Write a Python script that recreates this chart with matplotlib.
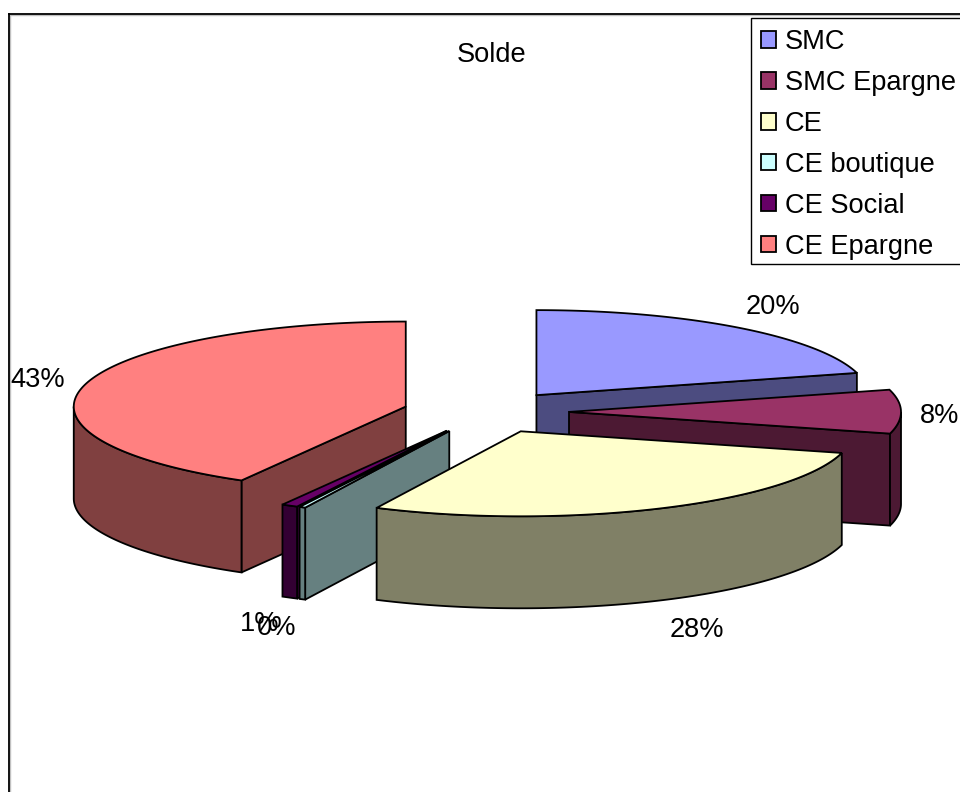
import numpy as np
import matplotlib
matplotlib.use('Agg')
import matplotlib.pyplot as plt
from matplotlib.patches import Polygon, Patch, Rectangle

labels = ['SMC', 'SMC Epargne', 'CE', 'CE boutique', 'CE Social', 'CE Epargne']
shares = [20.1, 8.1, 27.8, 0.3, 0.8, 42.9]
top_colors = ['#9999FF', '#993366', '#FFFFCC', '#CCFFFF', '#660066', '#FF8080']
side_colors = ['#4C4C80', '#4C1933', '#808066', '#668080', '#330033', '#804040']
pct_text = ['20%', '8%', '28%', '0%', '1%', '43%']
# where the labels sit, in pixels
pct_xy = [(773, 307), (940, 416), (697, 630), (277, 628), (260, 624), (38, 380)]

# back to front, painter style
draw_order = [0, 1, 5, 4, 3, 2]

cx, cy = 486, 412
rx, ry = 332, 85
depth = 92
explode = 0.25
warp = 4.2  # excel's 3d view pushes the angles round a little

plt.rcParams['font.family'] = ['Liberation Sans', 'DejaVu Sans']
font_size = 19.6

fig = plt.figure(figsize=(9.6, 7.92), dpi=100)
ax = fig.add_axes([0, 0, 1, 1])
ax.set_xlim(0, 960)
ax.set_ylim(792, 0)
ax.axis('off')


def arc(x0, y0, t1, t2):
    t = np.linspace(t1, t2, max(int(abs(t2 - t1) * 2), 2))
    return np.column_stack([x0 + rx * np.sin(np.radians(t)), y0 - ry * np.cos(np.radians(t))])


def poly(pts, color, z):
    ax.add_patch(Polygon(pts, closed=True, facecolor=color, edgecolor='black', linewidth=1.3, zorder=z))


edges = np.cumsum([0] + shares) / sum(shares) * 360
edges = edges + warp * np.sin(np.radians(edges / 2))
z = 2
for i in draw_order:
    t1, t2 = edges[i], edges[i + 1]
    mid = np.radians((t1 + t2) / 2)
    x0 = cx + explode * rx * np.sin(mid)
    y0 = cy - explode * ry * np.cos(mid)
    down = np.array([0, depth])
    apex = np.array([x0, y0])
    # cut faces that look at the viewer
    if t2 < 180:
        p = arc(x0, y0, t2, t2)[0]
        poly([apex, p, p + down, apex + down], side_colors[i], z)
    if t1 > 180:
        p = arc(x0, y0, t1, t1)[0]
        poly([apex, p, p + down, apex + down], side_colors[i], z)
    # outer wall, front half only
    lo, hi = max(t1, 90), min(t2, 270)
    if hi > lo:
        a = arc(x0, y0, lo, hi)
        poly(np.vstack([a, a[::-1] + down]), side_colors[i], z)
    poly(np.vstack([apex, arc(x0, y0, t1, t2)]), top_colors[i], z)
    z += 1

for txt, (x, y) in zip(pct_text, pct_xy):
    ax.text(x, y, txt, ha='center', va='center', fontsize=font_size, color='black', zorder=20)

ax.text(492, 55, 'Solde', ha='center', va='center', fontsize=font_size, color='black')

# chart frame, only top and left show
ax.plot([9, 960], [15, 15], color='#C0C0C0', lw=1, zorder=1)
ax.plot([10, 10], [15, 792], color='#C0C0C0', lw=1, zorder=1)
ax.plot([8.5, 960], [14, 14], color='black', lw=1.3, zorder=1)
ax.plot([8.5, 8.5], [14, 792], color='black', lw=1.3, zorder=1)

# legend box runs off the right edge
ax.add_patch(Rectangle((750.5, 17.5), 215, 246, facecolor='white', edgecolor='black', linewidth=1, zorder=25))
handles = [Patch(facecolor=c, edgecolor='black', linewidth=1.3) for c in top_colors]
leg = ax.legend(handles, labels, loc='upper left', bbox_to_anchor=(761, 29), bbox_transform=ax.transData,
                borderaxespad=0, fontsize=font_size, frameon=False,
                handlelength=0.55, handleheight=0.55, handletextpad=0.33,
                labelspacing=0.55, borderpad=0)
leg.set_zorder(30)

fig.savefig('out.png', dpi=100, facecolor='white')
